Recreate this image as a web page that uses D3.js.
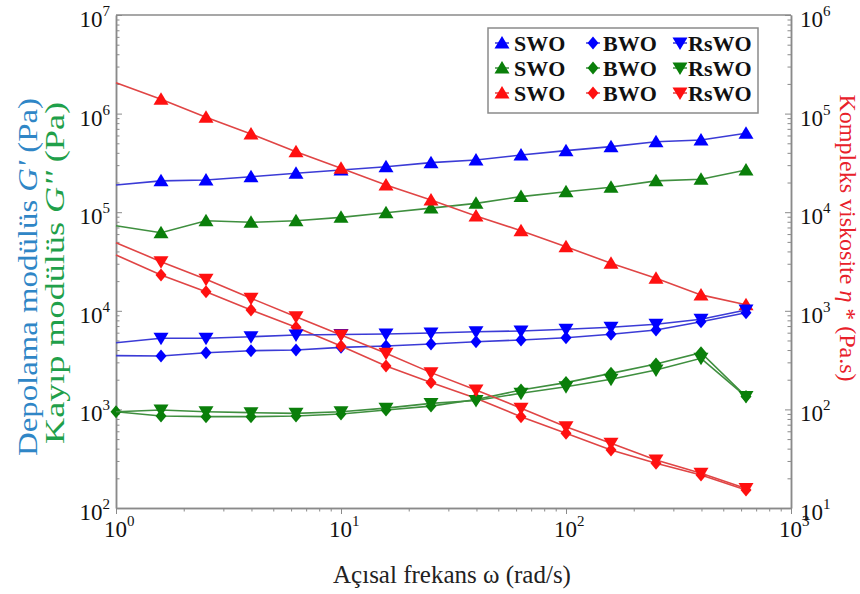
<!DOCTYPE html>
<html><head><meta charset="utf-8">
<script src="https://cdn.jsdelivr.net/npm/d3@7"></script>
<style>body{margin:0;background:#fff}svg{display:block}</style>
</head><body>
<svg id="c" width="860" height="594"></svg>
<script>
// ---- data ----
const omega = [1, 1.585, 2.512, 3.981, 6.310, 10, 15.85, 25.12, 39.81, 63.10, 100, 158.5, 251.2, 398.1, 631.0];
const gp_SWO   = [1.89e5, 2.08e5, 2.12e5, 2.29e5, 2.48e5, 2.68e5, 2.89e5, 3.18e5, 3.38e5, 3.80e5, 4.21e5, 4.62e5, 5.19e5, 5.40e5, 6.31e5];
const gpp_SWO  = [7.30e4, 6.20e4, 8.20e4, 7.90e4, 8.20e4, 8.87e4, 9.88e4, 1.10e5, 1.23e5, 1.44e5, 1.61e5, 1.79e5, 2.08e5, 2.16e5, 2.68e5];
const eta_SWO  = [2.06e5, 1.40e5, 9.17e4, 6.21e4, 4.11e4, 2.79e4, 1.89e4, 1.33e4, 9.15e3, 6.49e3, 4.47e3, 3.03e3, 2.14e3, 1.45e3, 1.15e3];
const gp_BWO   = [3510, 3480, 3760, 3940, 4000, 4260, 4400, 4600, 4860, 5060, 5330, 5780, 6380, 7750, 9570];
const gpp_BWO  = [948, 857, 844, 844, 857, 898, 986, 1080, 1260, 1570, 1870, 2320, 2890, 3760, 1350];
const eta_BWO  = [3680, 2310, 1560, 1020, 680, 440, 275, 187, 130, 84.4, 57.3, 38.7, 28.4, 21.6, 15.2];
const gp_RsWO  = [4740, 5260, 5260, 5460, 5690, 5750, 5820, 5960, 6140, 6240, 6490, 6800, 7300, 8200, 10200];
const gpp_RsWO = [948, 986, 948, 927, 912, 948, 1030, 1150, 1230, 1460, 1700, 2020, 2510, 3300, 1350];
const eta_RsWO = [4910, 3150, 2090, 1340, 871, 569, 371, 236, 157, 103, 66.8, 45.3, 30.7, 22.5, 15.8];
const materials = ["SWO", "BWO", "RsWO"];
const xTicks = [1, 10, 100, 1000];
const yLeftTicks = [1e2, 1e3, 1e4, 1e5, 1e6, 1e7];
const yRightTicks = [1e1, 1e2, 1e3, 1e4, 1e5, 1e6];
const xTitle = "Açısal frekans ω (rad/s)";

// ---- layout / style ----
const svg = d3.select("#c");
const L = 116, R = 791, T = 15, B = 508;
const x = d3.scaleLog().domain([1, 1000]).range([L, R]);
const yL = d3.scaleLog().domain([1e2, 1e7]).range([B, T]);
const yR = d3.scaleLog().domain([1e1, 1e6]).range([B, T]);
const FONT = "'Liberation Serif','Times New Roman',serif";
const AX = "#8a8a8a";

const lineCol = {blue: "#3b3bd6", green: "#3f8f3f", red: "#e04545"};
const markCol = {blue: "#0000ff", green: "#0a7f0a", red: "#ff1010"};

const series = [
  {vals: gp_SWO,   axis: yL, c: "blue",  m: "up"},
  {vals: gpp_SWO,  axis: yL, c: "green", m: "up"},
  {vals: eta_SWO,  axis: yR, c: "red",   m: "up"},
  {vals: gp_BWO,   axis: yL, c: "blue",  m: "dia"},
  {vals: gpp_BWO,  axis: yL, c: "green", m: "dia", first: true},
  {vals: eta_BWO,  axis: yR, c: "red",   m: "dia"},
  {vals: gp_RsWO,  axis: yL, c: "blue",  m: "down"},
  {vals: gpp_RsWO, axis: yL, c: "green", m: "down"},
  {vals: eta_RsWO, axis: yR, c: "red",   m: "down"}
];

function markerPath(m) {
  if (m === "up") return "M0,-7L7.5,5.5L-7.5,5.5Z";
  if (m === "down") return "M0,7L7.5,-5.5L-7.5,-5.5Z";
  return "M0,-6.5L5.5,0L0,6.5L-5.5,0Z";
}

// axes frame
const axG = svg.append("g");
axG.append("line").attr("x1", L).attr("x2", R).attr("y1", T).attr("y2", T).attr("stroke", AX).attr("stroke-width", 1.5);

function minorTicks(lo, hi) {
  const out = [];
  for (let d = lo; d < hi; d *= 10) for (let k = 2; k <= 9; k++) out.push(d * k);
  return out;
}
function styleAxis(g) {
  g.selectAll("path.domain").attr("stroke", AX).attr("stroke-width", 1.5);
  g.selectAll(".tick line").attr("stroke", AX);
  g.selectAll("text").remove();
}
// bottom
axG.append("g").attr("transform", `translate(0,${B})`)
  .call(d3.axisBottom(x).tickValues(xTicks).tickSizeInner(6).tickSizeOuter(0)).call(styleAxis);
axG.append("g").attr("transform", `translate(0,${B})`)
  .call(d3.axisBottom(x).tickValues(minorTicks(1, 1000)).tickSizeInner(3.5).tickSizeOuter(0)).call(styleAxis);
// left
axG.append("g").attr("transform", `translate(${L},0)`)
  .call(d3.axisLeft(yL).tickValues(yLeftTicks).tickSizeInner(-6).tickSizeOuter(0)).call(styleAxis);
axG.append("g").attr("transform", `translate(${L},0)`)
  .call(d3.axisLeft(yL).tickValues(minorTicks(1e2, 1e7)).tickSizeInner(-3.5).tickSizeOuter(0)).call(styleAxis);
// right
axG.append("g").attr("transform", `translate(${R},0)`)
  .call(d3.axisRight(yR).tickValues(yRightTicks).tickSizeInner(-6).tickSizeOuter(0)).call(styleAxis);
axG.append("g").attr("transform", `translate(${R},0)`)
  .call(d3.axisRight(yR).tickValues(minorTicks(1e1, 1e6)).tickSizeInner(-3.5).tickSizeOuter(0)).call(styleAxis);

// tick labels (10^n)
function powLabel(g, v, px, py, anchor) {
  const t = g.append("text").attr("x", px).attr("y", py).attr("text-anchor", anchor)
    .attr("font-family", FONT).attr("font-size", 23).attr("fill", "#111");
  t.append("tspan").text("10");
  t.append("tspan").attr("font-size", 15).attr("dy", -11).text(Math.round(Math.log10(v)));
}
const lab = svg.append("g");
xTicks.forEach(v => powLabel(lab, v, x(v) - 12, B + 29, "start"));
yLeftTicks.forEach(v => powLabel(lab, v, L - 6, yL(v) + 12, "end"));
yRightTicks.forEach(v => powLabel(lab, v, R + 9, yR(v) + 12, "start"));

// axis titles
svg.append("text").attr("x", 452).attr("y", 583).attr("text-anchor", "middle")
  .attr("font-family", FONT).attr("font-size", 25).attr("fill", "#222").text(xTitle);

const tBlue = svg.append("text").attr("transform", "translate(37,277) rotate(-90)").attr("text-anchor", "middle")
  .attr("font-family", FONT).attr("font-size", 28).attr("fill", "#2f86c6")
  .attr("textLength", 358).attr("lengthAdjust", "spacingAndGlyphs");
tBlue.append("tspan").text("Depolama modülüs ");
tBlue.append("tspan").attr("font-style", "italic").text("G'");
tBlue.append("tspan").text(" (Pa)");

const tGreen = svg.append("text").attr("transform", "translate(64,273) rotate(-90)").attr("text-anchor", "middle")
  .attr("font-family", FONT).attr("font-size", 28).attr("fill", "#1fa04a")
  .attr("textLength", 342).attr("lengthAdjust", "spacingAndGlyphs");
tGreen.append("tspan").text("Kayıp modülüs ");
tGreen.append("tspan").attr("font-style", "italic").text("G''");
tGreen.append("tspan").text(" (Pa)");

const tRed = svg.append("text").attr("transform", "translate(840,238) rotate(90)").attr("text-anchor", "middle")
  .attr("font-family", FONT).attr("font-size", 24).attr("fill", "#e8202a");
tRed.append("tspan").text("Kompleks viskosite  ");
tRed.append("tspan").attr("font-style", "italic").text("η");
tRed.append("tspan").text(" * (Pa.s)");

// data
const plot = svg.append("g");
series.forEach(s => {
  const pts = omega.map((w, i) => [x(w), s.axis(s.vals[i])]);
  plot.append("path").attr("d", d3.line()(pts)).attr("fill", "none")
    .attr("stroke", lineCol[s.c]).attr("stroke-width", 1.6);
  pts.forEach((p, i) => {
    if (i === 0 && !s.first) return;
    plot.append("path").attr("d", markerPath(s.m)).attr("transform", `translate(${p[0]},${p[1]})`)
      .attr("fill", markCol[s.c]);
  });
});

// legend
const lg = svg.append("g");
lg.append("rect").attr("x", 488).attr("y", 28).attr("width", 270).attr("height", 85)
  .attr("fill", "#fff").attr("stroke", "#8a8a8a").attr("stroke-width", 1.5);
const colMark = [502, 593, 680], colText = [514, 603, 688], rowY = [43, 68, 93];
const legShapes = ["up", "dia", "down"], legColors = ["blue", "green", "red"];
materials.forEach((mat, ci) => {
  legColors.forEach((c, ri) => {
    const cx = colMark[ci], cy = rowY[ri];
    lg.append("line").attr("x1", cx - 7).attr("x2", cx + 7).attr("y1", cy).attr("y2", cy)
      .attr("stroke", lineCol[c]).attr("stroke-width", 1.5);
    lg.append("path").attr("d", markerPath(legShapes[ci])).attr("transform", `translate(${cx},${cy})`)
      .attr("fill", markCol[c]);
    lg.append("text").attr("x", colText[ci]).attr("y", cy + 8).attr("font-family", FONT)
      .attr("font-weight", "bold").attr("font-size", 22).attr("fill", "#111").text(mat);
  });
});
</script>
</body></html>
